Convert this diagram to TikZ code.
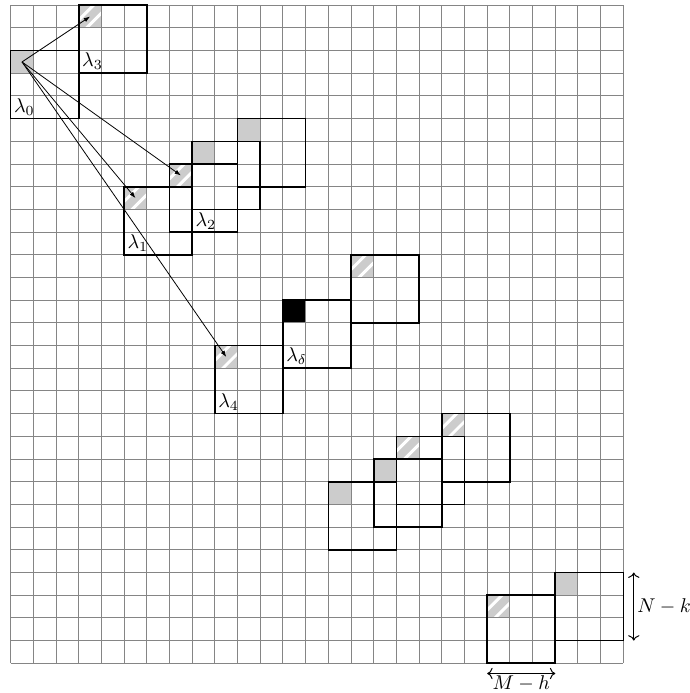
\documentclass[tikz,border=0pt]{standalone}
\usepackage{amsmath}
\usepackage{tikz}
\usetikzlibrary{arrows.meta,calc}
\definecolor{cellgray}{HTML}{CCCCCC}
\definecolor{gridgray}{HTML}{858585}

\newcommand{\hatchcell}[2]{%
  \begin{scope}
    \clip (#1,#2) rectangle ++(1,1);
    \fill[cellgray] (#1,#2) rectangle ++(1,1);
    \draw[stripe] ($(#1,#2)+(0.25,1.1)$) -- ($(#1,#2)+(1.1,0.25)$);
    \draw[stripe] ($(#1,#2)+(-0.1,0.75)$) -- ($(#1,#2)+(0.75,-0.1)$);
  \end{scope}}

\begin{document}
\begin{tikzpicture}[
        x=0.4cm, y=-0.4cm,
        gridline/.style={draw=gridgray, line width=0.5pt},
        win/.style={draw=black, line width=0.8pt},
        stripe/.style={white, line width=1.5pt},
        lbl/.style={inner sep=1.5pt},
        arr/.style={-{Latex[length=1.1mm,width=0.8mm]}, line width=0.4pt},
        dim/.style={<->, line width=0.5pt}
    ]
    \useasboundingbox (-0.47,-0.23) rectangle (29.93,30.31);
    % filled cells
    \foreach \c/\r in {0/2, 8/6, 10/5, 14/21, 16/20, 24/25}
        \fill[cellgray] (\c,\r) rectangle ++(1,1);
    \foreach \c/\r in {3/0, 5/8, 7/7, 9/15, 15/11, 17/19, 19/18, 21/26}
        \hatchcell{\c}{\r};
    \fill[black] (12,13) rectangle ++(1,1);
    % grid
    \foreach \i in {0,...,27}
        \draw[gridline] (\i,0) -- (\i,29);
    \foreach \j in {0,...,29}
        \draw[gridline] (0,\j) -- (27,\j);
    % windows
    \foreach \c/\r in {0/2, 3/0, 5/8, 7/7, 8/6, 10/5, 9/15, 12/13, 15/11,
                       14/21, 16/20, 17/19, 19/18, 21/26, 24/25}
        \draw[win] (\c,\r) rectangle ++(3,3);
    % labels
    \node[lbl, anchor=south west] (t0) at (0,5) {$\lambda_0$};
    \node[lbl, anchor=south west] (t3) at (3,3) {$\lambda_3$};
    \node[lbl, anchor=south west] (t1) at (5,11) {$\lambda_1$};
    \node[lbl, anchor=north west] (t2) at (8,9) {$\lambda_2$};
    \node[lbl, anchor=south west] (t4) at (9,18) {$\lambda_4$};
    \node[lbl, anchor=south west] (td) at (12,16) {$\lambda_\delta$};
    % arrows
    \coordinate (g0) at (0.5,2.5);
    \coordinate (h3) at (3.5,0.5);
    \coordinate (h1) at (5.5,8.5);
    \coordinate (h2) at (7.5,7.5);
    \coordinate (h4) at (9.5,15.5);
    \draw[arr] (g0) -- (h3);
    \draw[arr] (g0) -- (h1);
    \draw[arr] (g0) -- (h2);
    \draw[arr] (g0) -- (h4);
    % dimensions
    \coordinate (nt) at (27.46,25);
    \coordinate (nb) at (27.46,28);
    \draw[dim] (nt) -- (nb) node[midway, right, inner sep=1.5pt] (nk) {$N-k$};
    \coordinate (ml) at (21,29.45);
    \coordinate (mr) at (24,29.45);
    \draw[dim] (ml) -- (mr) node[midway, below, inner sep=0.8pt] (mh) {$M-h$};
\end{tikzpicture}
\end{document}
